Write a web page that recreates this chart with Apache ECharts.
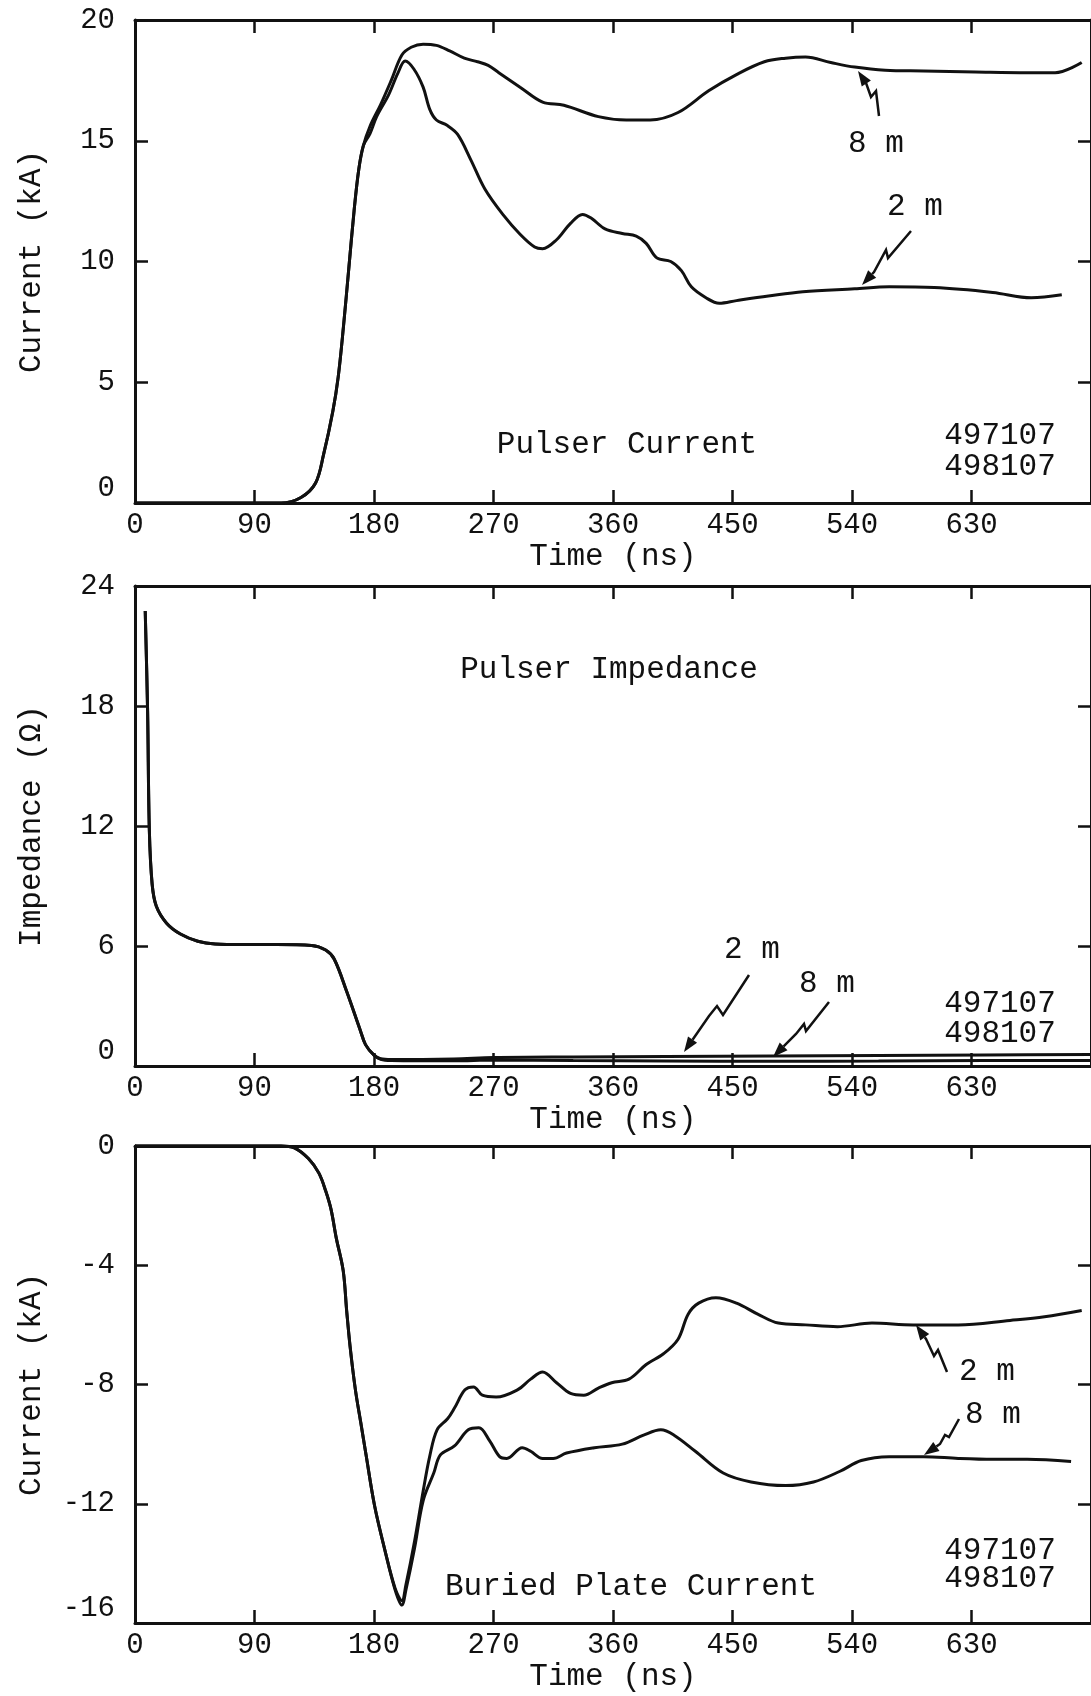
<!DOCTYPE html>
<html>
<head>
<meta charset="utf-8">
<script src="https://cdn.jsdelivr.net/npm/echarts@6/dist/echarts.min.js"></script>
<style>
  html, body { margin: 0; padding: 0; background: #fff; overflow: hidden; }
  #chart { width: 1091px; height: 1696px; }
</style>
</head>
<body>
<div id="chart"></div>
<script>
  // time in ns
  var timeTicks = [0, 90, 180, 270, 360, 450, 540, 630, 720];

  // Pulser current (kA)
  var pulser2m = [[0,0],[110,0],[125,0.23],[136,0.83],[142,2.0],[149,3.8],[153,5.2],[157,7.3],[161,9.7],[165,12.1],[168.5,13.8],[172,14.8],[177,15.3],[182,16.0],[191,16.9],[198,17.8],[203.5,18.3],[210,17.97],[217,17.22],[222,16.3],[227,15.86],[235,15.64],[243,15.26],[253,14.2],[263.5,13.0],[277,11.95],[290,11.13],[301,10.6],[307,10.53],[317.5,10.9],[328,11.58],[337,11.95],[343.5,11.8],[354,11.35],[367,11.16],[377.5,11.05],[385,10.75],[393,10.15],[403.5,10.0],[411.5,9.62],[419,8.95],[430,8.5],[440,8.27],[453,8.38],[477,8.57],[503,8.75],[542,8.87],[568,8.95],[602,8.92],[646,8.72],[675,8.5],[698,8.62]];
  var pulser8m = [[0,0],[110,0],[125,0.23],[136,0.83],[142,2.0],[149,3.8],[153,5.2],[157,7.3],[161,9.7],[165,12.1],[168.5,13.8],[172,14.8],[177,15.6],[185,16.5],[193,17.5],[201,18.55],[208,18.87],[217,19.0],[227,18.95],[237,18.72],[248,18.42],[258,18.27],[266,18.12],[274,17.82],[290,17.22],[307,16.6],[323,16.47],[349,16.0],[370,15.86],[388,15.86],[409,16.17],[432,17.07],[453,17.74],[474,18.27],[490,18.42],[505,18.47],[524,18.24],[542,18.05],[565,17.92],[594,17.89],[633,17.85],[672,17.82],[693,17.82],[713,18.24]];

  // Pulser impedance (ohm)
  var imped2m = [[7.7,22.75],[9.5,17.7],[10.8,11.8],[12.9,9.1],[16,8.0],[23.8,7.14],[34.2,6.6],[47.3,6.24],[60.3,6.1],[81,6.07],[107,6.07],[133,6.03],[143.6,5.8],[150,5.35],[159.3,3.75],[169.7,1.78],[173.6,1.07],[180,0.54],[185,0.36],[193,0.32],[240,0.35],[270,0.42],[330,0.45],[400,0.47],[480,0.5],[560,0.52],[640,0.55],[720,0.57]];
  var imped8m = [[7.7,22.75],[9.5,17.7],[10.8,11.8],[12.9,9.1],[16,8.0],[23.8,7.14],[34.2,6.6],[47.3,6.24],[60.3,6.1],[81,6.07],[107,6.07],[133,6.03],[143.6,5.8],[150,5.35],[159.3,3.75],[169.7,1.78],[173.6,1.07],[180,0.54],[185,0.34],[193,0.28],[240,0.26],[270,0.3],[330,0.27],[400,0.25],[480,0.24],[560,0.25],[640,0.27],[720,0.28]];

  // Buried plate current (kA)
  var plate2m = [[0,0],[110,0],[120,-0.06],[130.6,-0.42],[138.5,-0.91],[143.7,-1.52],[147.6,-2.12],[151.6,-3.09],[156.8,-4.18],[159.4,-5.52],[162,-6.73],[166,-8.18],[170,-9.27],[174,-10.36],[180.4,-12.06],[188,-13.52],[196,-14.85],[201,-15.25],[204,-14.73],[210.5,-13.27],[217,-11.58],[222,-10.4],[227.5,-9.52],[235.4,-9.15],[240.6,-8.79],[248.5,-8.18],[255,-8.08],[261.6,-8.36],[272,-8.42],[288,-8.18],[298,-7.82],[307,-7.58],[317.5,-7.94],[328,-8.3],[338,-8.36],[349,-8.12],[359,-7.94],[372,-7.82],[385,-7.33],[398,-6.97],[409,-6.48],[416.6,-5.64],[424.5,-5.27],[437.5,-5.09],[453,-5.27],[469,-5.64],[484.5,-5.94],[505,-6.0],[529,-6.06],[555,-5.94],[586,-6.0],[620,-6.0],[659,-5.85],[685,-5.73],[713,-5.52]];
  var plate8m = [[0,0],[110,0],[120,-0.06],[130.6,-0.42],[138.5,-0.91],[143.7,-1.52],[147.6,-2.12],[151.6,-3.09],[156.8,-4.18],[159.4,-5.52],[162,-6.73],[166,-8.18],[170,-9.27],[174,-10.36],[180.4,-12.06],[188,-13.52],[196,-14.9],[201,-15.4],[204,-14.9],[210.5,-13.5],[217,-11.9],[225,-10.97],[230,-10.36],[240.6,-10.06],[251,-9.52],[259,-9.45],[267,-9.88],[274.6,-10.42],[280,-10.48],[291.6,-10.12],[298,-10.24],[307,-10.48],[315,-10.48],[325,-10.3],[346,-10.12],[367,-10.0],[383,-9.7],[396,-9.52],[406,-9.7],[422,-10.24],[443,-10.97],[464,-11.27],[490,-11.39],[511,-11.27],[531,-10.91],[547,-10.55],[568,-10.42],[594,-10.42],[620,-10.48],[646,-10.51],[672,-10.51],[705,-10.58]];

  var FONT = '"Liberation Mono", "DejaVu Sans Mono", monospace';
  var INK = '#111';

  var chart = echarts.init(document.getElementById('chart'));

  var panels = [
    {top: 20, height: 483, min: 0, max: 20, interval: 5, name: 'Current (kA)'},
    {top: 586, height: 480, min: 0, max: 24, interval: 6, name: 'Impedance (\u03a9)'},
    {top: 1146, height: 477, min: -16, max: 0, interval: 4, name: 'Current (kA)'}
  ];

  var grids = [], xAxes = [], yAxes = [];
  panels.forEach(function (p, i) {
    grids.push({left: 135, top: p.top, width: 961, height: p.height});
    var xBase = {
      gridIndex: i, type: 'value', min: 0, max: 720, interval: 90,
      axisLine: {onZero: false, lineStyle: {color: INK, width: 3}},
      axisTick: {inside: true, length: 13, lineStyle: {color: INK, width: 2.5}},
      splitLine: {show: false}
    };
    xAxes.push(Object.assign({}, xBase, {
      position: 'bottom',
      name: 'Time (ns)', nameLocation: 'middle', nameGap: 37,
      nameTextStyle: {fontFamily: FONT, fontSize: 31, color: INK},
      axisLabel: {fontFamily: FONT, fontSize: 29, color: INK, margin: 8, showMaxLabel: false}
    }));
    xAxes.push(Object.assign({}, xBase, {position: 'top', axisLabel: {show: false}}));
    var yBase = {
      gridIndex: i, type: 'value', min: p.min, max: p.max, interval: p.interval,
      axisLine: {show: true, onZero: false, lineStyle: {color: INK, width: 3}},
      axisTick: {show: true, inside: true, length: 13, lineStyle: {color: INK, width: 2.5}},
      splitLine: {show: false}
    };
    yAxes.push(Object.assign({}, yBase, {
      position: 'left',
      name: p.name, nameLocation: 'middle', nameGap: 88, nameRotate: 90,
      nameTextStyle: {fontFamily: FONT, fontSize: 31, color: INK},
      axisLabel: {fontFamily: FONT, fontSize: 29, color: INK, margin: 20, verticalAlignMinLabel: 'bottom'}
    }));
    yAxes.push(Object.assign({}, yBase, {position: 'right', axisLabel: {show: false}}));
  });

  function line(data, panel) {
    return {
      type: 'line', data: data, xAxisIndex: panel * 2, yAxisIndex: panel * 2,
      showSymbol: false, smooth: 0.35, clip: false,
      lineStyle: {color: INK, width: 3}
    };
  }

  function label(text, x, y, size) {
    return {
      type: 'text', x: x, y: y,
      style: {text: text, font: (size || 31) + 'px ' + FONT, fill: INK,
              align: 'center', verticalAlign: 'middle', textAlign: 'center', textVerticalAlign: 'middle'}
    };
  }

  function arrow(pts) {
    var n = pts.length;
    var a = pts[n - 2], b = pts[n - 1];
    var ang = Math.atan2(b[1] - a[1], b[0] - a[0]);
    var L = 15, W = 5.5;
    var bx = b[0] - L * Math.cos(ang), by = b[1] - L * Math.sin(ang);
    var px = -Math.sin(ang) * W, py = Math.cos(ang) * W;
    return [
      {type: 'polyline', shape: {points: pts.slice(0, n - 1).concat([[bx, by]])},
       style: {stroke: INK, lineWidth: 2.5, fill: null}},
      {type: 'polygon', shape: {points: [[b[0], b[1]], [bx + px, by + py], [bx - px, by - py]]},
       style: {fill: INK}}
    ];
  }

  var graphics = [
    label('Pulser Current', 627, 445),
    label('497107', 1000, 436),
    label('498107', 1000, 467),
    label('8 m', 876, 144),
    label('2 m', 915, 207),
    label('Pulser Impedance', 609, 670),
    label('2 m', 752, 950),
    label('8 m', 827, 984),
    label('497107', 1000, 1004),
    label('498107', 1000, 1034),
    label('Buried Plate Current', 631, 1587),
    label('497107', 1000, 1551),
    label('498107', 1000, 1579),
    label('2 m', 987, 1372),
    label('8 m', 993, 1415)
  ].concat(
    arrow([[879, 116], [876, 91], [871, 97], [866, 83], [858, 71]]),
    arrow([[911, 231], [888, 258], [886, 250], [874, 272], [862, 285]]),
    arrow([[749, 975], [723, 1015], [717, 1006], [709, 1016], [684, 1052]]),
    arrow([[829, 1002], [806, 1031], [804, 1024], [796, 1034], [773, 1057]]),
    arrow([[947, 1372], [938, 1350], [934, 1356], [926, 1339], [916, 1325]]),
    arrow([[959, 1419], [949, 1437], [945, 1435], [940, 1444], [924, 1455]])
  );

  chart.setOption({
    animation: false,
    backgroundColor: '#fff',
    grid: grids,
    xAxis: xAxes,
    yAxis: yAxes,
    series: [
      line(pulser2m, 0), line(pulser8m, 0),
      line(imped2m, 1), line(imped8m, 1),
      line(plate2m, 2), line(plate8m, 2)
    ],
    graphic: graphics
  });
</script>
</body>
</html>
